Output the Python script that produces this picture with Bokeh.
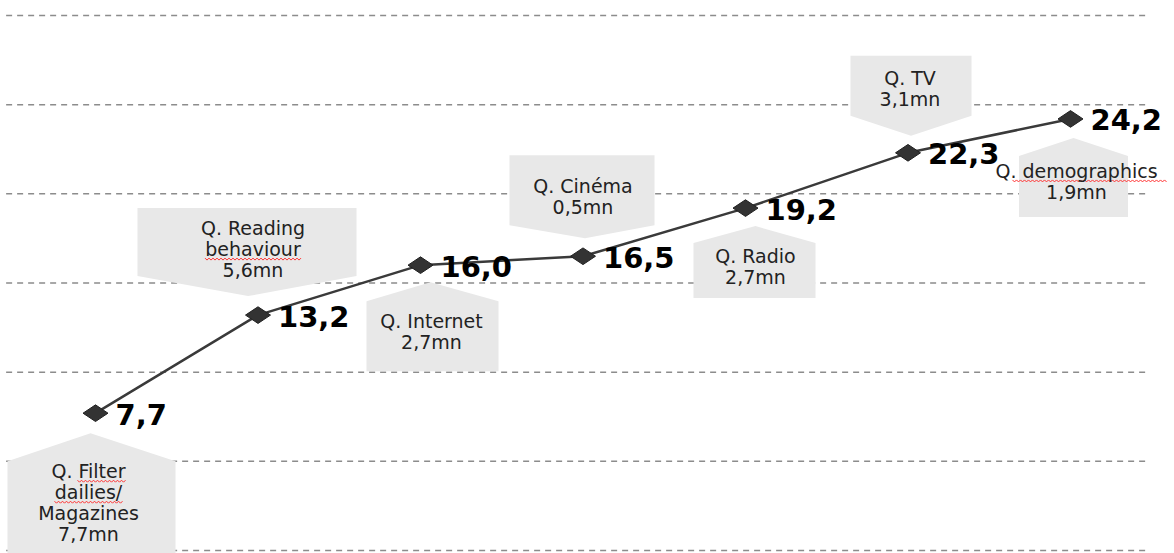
from bokeh.plotting import figure
from bokeh.models import Range1d
from bokeh.embed import file_html
from bokeh.resources import INLINE
from bokeh.core.properties import value

# Cumulative interview length (minutes) after each questionnaire section
sections = ["Filter", "Reading", "Internet", "Cinema", "Radio", "TV", "Demographics"]
section_titles = [
    ["Q. Filter", "dailies/", "Magazines"],
    ["Q. Reading", "behaviour"],
    ["Q. Internet"],
    ["Q. Cinéma"],
    ["Q. Radio"],
    ["Q. TV"],
    ["Q. demographics"],
]
cumulative_minutes = [7.7, 13.2, 16.0, 16.5, 19.2, 22.3, 24.2]
section_minutes = [7.7, 5.6, 2.7, 0.5, 2.7, 3.1, 1.9]
grid_values = [0, 5, 10, 15, 20, 25, 30]

W, H = 1174, 553
XS = 162.5          # pixels per category step
YS = 535 / 30.0     # pixels per minute
x0_px = 95          # pixel position of the first category
y_bottom_px = 3     # pixels below the zero line

x_range = Range1d(-x0_px / XS, (W - x0_px) / XS)
y_range = Range1d(-y_bottom_px / YS, 30 + 15 / YS)

p = figure(width=W, height=H, x_range=x_range, y_range=y_range,
           output_backend="svg", toolbar_location=None, min_border=0,
           outline_line_color=None, background_fill_color="white",
           border_fill_color="white")
p.axis.visible = False
p.grid.visible = False

xs = list(range(len(sections)))

# dashed horizontal guide lines
g_left = -0.55
g_right = 6.49
p.segment(x0=[g_left] * len(grid_values), x1=[g_right] * len(grid_values),
          y0=grid_values, y1=grid_values, line_color="#8c8c8c",
          line_width=1.5, line_dash="6 5")

# callout layout in pixels relative to each point:
# side, box centre dx, apex dx, apex gap, shoulder gap, far edge gap, width,
# text dx, first text line dy
callouts = [
    ("below", -4, -5, 20, 48, 150, 168, -7, 58),
    ("above", -11, -10, 19, 39, 107, 219, -5, -87),
    ("below", 12, 10, 17, 36, 106, 132, 11, 56),
    ("above", -1, 2, 18, 31, 101, 145, 0, -70),
    ("below", 9, 10, 18, 35, 90, 122, 10, 48),
    ("above", 3, 3, 17, 37, 97, 121, 2, -75),
    ("below", 3, 3, 19, 37, 98, 109, 6, 52),
]
line_gap = 21

# spell-check underlines: (section, text line, start px, end px) relative to line centre
squiggles = [
    (0, 0, -11, 38),
    (0, 1, -34, 34),
    (1, 1, -48, 48),
    (6, 0, -64, 91),
]


def to_data(i, v, dx, dy):
    # dx to the right, dy downwards on screen, both in pixels
    return i + dx / XS, v - dy / YS


poly_xs, poly_ys = [], []
txt_x, txt_y, txt = [], [], []
for i, (v, m, titles, c) in enumerate(zip(cumulative_minutes, section_minutes,
                                           section_titles, callouts)):
    side, cx, ax, ag, sg, fg, w, tdx, tdy = c
    s = 1 if side == "below" else -1
    pts = [
        (ax, s * ag),
        (cx + w / 2, s * sg),
        (cx + w / 2, s * fg),
        (cx - w / 2, s * fg),
        (cx - w / 2, s * sg),
    ]
    conv = [to_data(i, v, dx, dy) for dx, dy in pts]
    poly_xs.append([a for a, _ in conv])
    poly_ys.append([b for _, b in conv])
    lines = titles + [f"{m:.1f}mn".replace(".", ",")]
    for k, t in enumerate(lines):
        tx, ty = to_data(i, v, tdx, tdy + k * line_gap)
        txt_x.append(tx)
        txt_y.append(ty)
        txt.append(t)

p.patches(xs=poly_xs, ys=poly_ys, fill_color="#e8e8e8", line_color=None)

# wavy red underlines under flagged words
wave_xs, wave_ys = [], []
for sec, ln, a, b in squiggles:
    _, _, _, _, _, _, _, tdx, tdy = callouts[sec]
    v = cumulative_minutes[sec]
    base_dy = tdy + ln * line_gap + 10
    wx, wy = [], []
    step = 2
    k = 0
    d = a
    while d <= b:
        off = -1 if k % 2 == 0 else 1
        px, py = to_data(sec, v, tdx + d, base_dy + off)
        wx.append(px)
        wy.append(py)
        d += step
        k += 1
    wave_xs.append(wx)
    wave_ys.append(wy)
p.multi_line(xs=wave_xs, ys=wave_ys, line_color="#ff3030", line_width=1)

# cumulative line with diamond markers
p.line(xs, cumulative_minutes, line_color="#3a3a3a", line_width=2.5)
p.scatter(xs, cumulative_minutes, marker="diamond", size=25, angle=1.5708,
          fill_color="#333333", line_color="#222222")

p.text(x=txt_x, y=txt_y, text=txt, text_font=value("DejaVu Sans"),
       text_font_size="19px", text_color="#222222", text_align="center",
       text_baseline="middle")

value_labels = [f"{v:.1f}".replace(".", ",") for v in cumulative_minutes]
p.text(x=xs, y=cumulative_minutes, text=value_labels,
       text_font=value("DejaVu Sans"), text_font_style="bold",
       text_font_size="29px", text_color="#000000", text_align="left",
       text_baseline="middle", x_offset=20, y_offset=1)

open("out.html", "w").write(file_html(p, INLINE))
